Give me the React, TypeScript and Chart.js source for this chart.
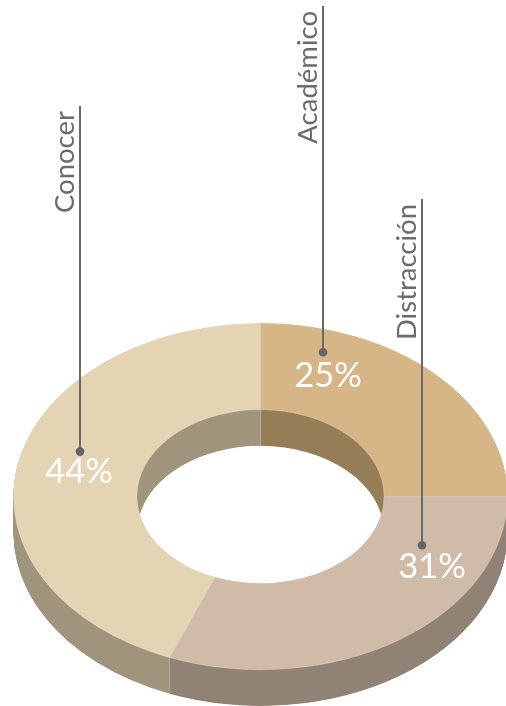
import React, { useEffect, useRef } from "react";
import { Chart, registerables } from "chart.js";

Chart.register(...registerables);

const categories = ["Académico", "Distracción", "Conocer"];
const shares = [25, 31, 44];
const faceColors = ["#d6b686", "#d0bba8", "#e4d4b4"];
const wallColors = ["#957d57", "#908274", "#a0947d"];
// Painting order of the walls: a slice swept downward must not cover the slice below it.
const wallOrder = [0, 2, 1];

// Layout of the callouts, relative to each slice: where the dot sits along and across the ring,
// where its stem ends at the top, and the offset of the percentage text.
const dotAlong = [0.188, 0.208, 0.555];
const dotAcross = [0.74, 0.427, 0.55];
const stemTop = [6, 199, 106];
const percentDx = [5, 10, -1];
const percentDy = [35, 33, 31];

const TILT = 0.702;
const DEPTH = 36;
const CENTER_Y = 496.5;
const OUTER = 247;

const threeD = {
  id: "threeD",
  beforeDatasetsDraw(chart: any) {
    const ctx = chart.ctx;
    const arcs = chart.getDatasetMeta(0).data;
    const ratio = chart.currentDevicePixelRatio || 1;
    const place = (c: any, shift: number) => {
      c.translate(0, CENTER_Y + shift);
      c.scale(1, TILT);
      c.translate(0, -arcs[0].y);
    };
    // Each slice's wall is swept on its own layer and then flattened to one colour,
    // so the repeated edges leave no streaks.
    wallOrder.forEach((i: number) => {
      const arc = arcs[i];
      const layer = document.createElement("canvas");
      layer.width = chart.canvas.width;
      layer.height = chart.canvas.height;
      const c = layer.getContext("2d") as CanvasRenderingContext2D;
      c.scale(ratio, ratio);
      const own = arc.options;
      arc.options = {
        backgroundColor: wallColors[i],
        borderColor: "transparent",
        borderWidth: 0,
        borderAlign: "center",
        borderRadius: 0,
        spacing: 0,
        offset: 0,
        circular: true,
      };
      for (let d = DEPTH; d >= 0.5; d -= 0.5) {
        c.save();
        place(c, d);
        arc.draw(c);
        c.restore();
      }
      arc.options = own;
      c.globalCompositeOperation = "source-atop";
      c.fillStyle = wallColors[i];
      c.fillRect(0, 0, chart.width, chart.height);
      ctx.drawImage(layer, 0, 0, chart.width, chart.height);
    });
    ctx.save();
    place(ctx, 0);
  },
  afterDatasetsDraw(chart: any) {
    const ctx = chart.ctx;
    ctx.restore();
    const arcs = chart.getDatasetMeta(0).data;
    const toPage = (arc: any, angle: number, r: number) => ({
      x: arc.x + Math.cos(angle) * r,
      y: CENTER_Y + Math.sin(angle) * r * TILT,
    });

    // light seams where two slices meet on the walls
    ctx.save();
    ctx.strokeStyle = "rgba(255,255,255,0.22)";
    ctx.lineWidth = 1;
    arcs.forEach((arc: any) => {
      const s = Math.sin(arc.startAngle);
      if (Math.abs(s) < 0.01) return;
      const p = toPage(arc, arc.startAngle, s > 0 ? arc.outerRadius : arc.innerRadius);
      ctx.beginPath();
      ctx.moveTo(p.x, p.y);
      ctx.lineTo(p.x, p.y + DEPTH);
      ctx.stroke();
    });
    ctx.restore();

    arcs.forEach((arc: any, i: number) => {
      const angle = arc.startAngle + dotAlong[i] * (arc.endAngle - arc.startAngle);
      const r = arc.innerRadius + dotAcross[i] * (arc.outerRadius - arc.innerRadius);
      const dot = toPage(arc, angle, r);
      dot.x = Math.round(dot.x);

      ctx.save();
      ctx.strokeStyle = "#6a6a6a";
      ctx.fillStyle = "#656568";
      ctx.lineWidth = 2;
      ctx.beginPath();
      ctx.moveTo(dot.x, stemTop[i]);
      ctx.lineTo(dot.x, dot.y);
      ctx.stroke();
      ctx.beginPath();
      ctx.arc(dot.x, dot.y, 4.3, 0, Math.PI * 2);
      ctx.fill();

      ctx.fillStyle = "#ffffff";
      ctx.font = "34.5px Lato";
      ctx.textAlign = "center";
      ctx.textBaseline = "alphabetic";
      ctx.fillText(`${shares[i]}%`, dot.x + percentDx[i], dot.y + percentDy[i]);

      ctx.translate(dot.x - 6, stemTop[i] + 5);
      ctx.rotate(-Math.PI / 2);
      ctx.fillStyle = "#6b6b6b";
      ctx.font = "27.5px Lato";
      ctx.textAlign = "right";
      ctx.fillText(categories[i], 0, 0);
      ctx.restore();
    });
  },
};

export default function App() {
  const ref = useRef<HTMLCanvasElement>(null);
  useEffect(() => {
    const chart = new Chart(ref.current as HTMLCanvasElement, {
      type: "doughnut",
      data: {
        labels: categories,
        datasets: [
          {
            data: shares,
            backgroundColor: faceColors,
            borderColor: "rgba(255,255,255,0.2)",
            borderWidth: 1,
            clip: false,
          } as any,
        ],
      },
      options: {
        responsive: false,
        animation: false,
        events: [],
        radius: OUTER,
        cutout: "50%",
        layout: { padding: { left: 15 } },
        plugins: { legend: { display: false }, tooltip: { enabled: false } },
      } as any,
      plugins: [threeD],
    });
    return () => chart.destroy();
  }, []);
  return (
    <div style={{ position: "absolute", left: 0, top: 0, width: 506, height: 706 }}>
      <canvas ref={ref} width={506} height={706} style={{ display: "block" }} />
    </div>
  );
}
